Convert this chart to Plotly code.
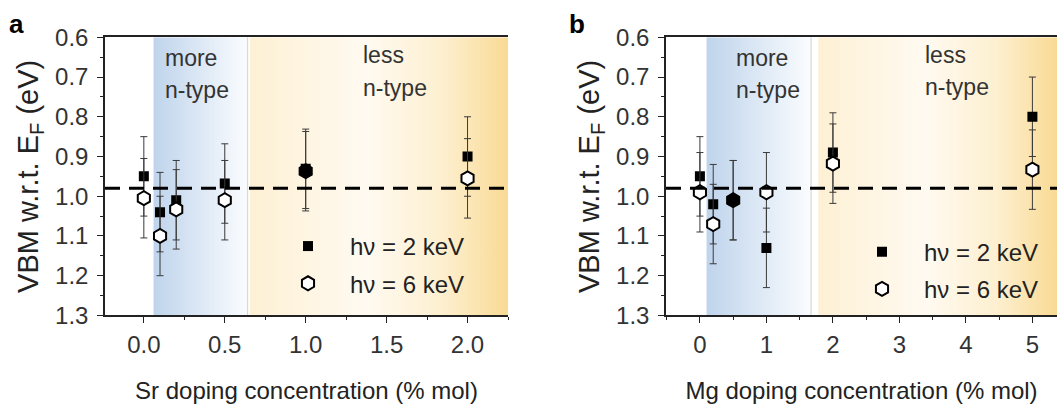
import plotly.graph_objects as go

# ---------------- data ----------------
sr_conc = [0.0, 0.1, 0.2, 0.5, 1.0, 2.0]
sr_vbm_2kev = [0.95, 1.04, 1.01, 0.968, 0.931, 0.90]
sr_vbm_6kev = [1.005, 1.10, 1.033, 1.01, 0.937, 0.955]
sr_err_2kev = [0.1, 0.1, 0.1, 0.1, 0.1, 0.1]
sr_err_6kev = [0.1, 0.1, 0.1, 0.1, 0.1, 0.1]

mg_conc = [0, 0.2, 0.5, 1, 2, 5]
mg_vbm_2kev = [0.95, 1.02, 1.01, 1.13, 0.89, 0.80]
mg_vbm_6kev = [0.99, 1.07, 1.01, 0.99, 0.918, 0.933]
mg_err_2kev = [0.1, 0.1, 0.1, 0.1, 0.1, 0.1]
mg_err_6kev = [0.1, 0.1, 0.1, 0.1, 0.1, 0.1]

ref_level = 0.98

# region bounds (x data units)
sr_more_region = [0.06, 0.635]
sr_divider = 0.64
sr_less_region = [0.655, 2.25]
mg_more_region = [0.1, 1.66]
mg_divider = 1.67
mg_less_region = [1.78, 5.37]

y_range = [1.3, 0.6]
sr_x_range = [-0.24, 2.25]
mg_x_range = [-0.51, 5.37]

sr_tickvals = [0.0, 0.5, 1.0, 1.5, 2.0]
mg_tickvals = [0, 1, 2, 3, 4, 5]

legend_labels = ["h\u03bd = 2 keV", "h\u03bd = 6 keV"]
y_title = "VBM w.r.t. E<sub>F</sub> (eV)"
sr_title = "Sr doping concentration (% mol)"
mg_title = "Mg doping concentration (% mol)"

# ---------------- styles ----------------
FONT = "Liberation Sans, Arial, sans-serif"
AX = "#222222"
TXT = "#333333"
blue_scale = [[0, "#bfd4ec"], [1, "#fafcfe"]]
yellow_scale = [[0, "#fdf0d4"], [0.45, "#fffaf1"], [0.75, "#fdefcf"], [1, "#f9da94"]]

W, H = 1057, 404
dom_a = [105 / W, 508 / W]
dom_b = [666 / W, 1.0]
dom_y = [1 - 323 / H, 1 - 25 / H]

fig = go.Figure()


def region(x0x1, scale, xa, ya):
    x0, x1 = x0x1
    fig.add_trace(go.Scatter(
        x=[x0, x1, x1, x0, x0], y=[0.6, 0.6, 1.3, 1.3, 0.6],
        fill="toself", mode="lines", line=dict(width=0),
        fillgradient=dict(type="horizontal", colorscale=scale),
        hoverinfo="skip", showlegend=False, xaxis=xa, yaxis=ya))


region(sr_more_region, blue_scale, "x", "y")
region(sr_less_region, yellow_scale, "x", "y")
region(mg_more_region, blue_scale, "x2", "y2")
region(mg_less_region, yellow_scale, "x2", "y2")


def err(arr):
    return dict(type="data", array=arr, visible=True, color="#3a3a3a",
                thickness=1, width=3.5)


def series(x, y, e, xa, ya, legend, sym, showfill, name, group):
    if sym == "square":
        marker = dict(symbol="square", size=10, color="black",
                      line=dict(width=0))
    else:
        marker = dict(symbol="hexagon", size=14, color=showfill,
                      line=dict(width=2, color="black"))
    fig.add_trace(go.Scatter(
        x=x, y=y, mode="markers", marker=marker, error_y=err(e),
        name=name, legend=legend, legendgroup=group + legend,
        xaxis=xa, yaxis=ya, showlegend=True))


series(sr_conc, sr_vbm_2kev, sr_err_2kev, "x", "y", "legend", "square", None,
       legend_labels[0], "g1")
series(sr_conc, sr_vbm_6kev, sr_err_6kev, "x", "y", "legend", "hexagon",
       ["white", "white", "white", "white", "black", "white"],
       legend_labels[1], "g2")
series(mg_conc, mg_vbm_2kev, mg_err_2kev, "x2", "y2", "legend2", "square", None,
       legend_labels[0], "g1")
series(mg_conc, mg_vbm_6kev, mg_err_6kev, "x2", "y2", "legend2", "hexagon",
       ["white", "white", "black", "white", "white", "white"],
       legend_labels[1], "g2")

# ---------------- axes ----------------
tickfont = dict(family=FONT, size=24, color=TXT)


def yaxis_cfg(anchor):
    return dict(
        domain=dom_y, anchor=anchor, range=y_range, autorange=False,
        tickmode="linear", tick0=0.6, dtick=0.1, tickformat=".1f",
        ticks="outside", ticklen=6, tickwidth=1.2, tickcolor=AX,
        minor=dict(ticks="outside", ticklen=3, tickwidth=1, tickcolor=AX,
                   tick0=0.65, dtick=0.1),
        showline=True, linecolor=AX, linewidth=1.5, showgrid=False,
        zeroline=False, tickfont=tickfont, ticklabelstandoff=4,
        title=dict(text=y_title, font=dict(family=FONT, size=29, color=AX),
                   standoff=8))


def xaxis_cfg(anchor, dom, rng, tickvals, fmt, minor_d, title):
    return dict(
        domain=dom, anchor=anchor, range=rng, autorange=False,
        tickmode="array", tickvals=tickvals, tickformat=fmt,
        ticks="outside", ticklen=6, tickwidth=1.2, tickcolor=AX,
        minor=dict(ticks="outside", ticklen=3, tickwidth=1, tickcolor=AX,
                   tick0=0, dtick=minor_d),
        showline=True, linecolor=AX, linewidth=1.5, showgrid=False,
        zeroline=False, mirror=True, tickfont=tickfont, ticklabelstandoff=1,
        title=dict(text=title, font=dict(family=FONT, size=24, color=AX),
                   standoff=25))


def top_cfg(over, anchor, rng, tickvals, minor_d):
    return dict(overlaying=over, anchor=anchor, side="top", range=rng,
                autorange=False, tickmode="array", tickvals=tickvals,
                showticklabels=False, ticks="inside", ticklen=6, tickwidth=1.2,
                tickcolor=AX,
                minor=dict(ticks="inside", ticklen=3, tickwidth=1, tickcolor=AX,
                           tick0=0, dtick=minor_d),
                showline=False, showgrid=False, zeroline=False)


fig.update_layout(
    xaxis=xaxis_cfg("y", dom_a, sr_x_range, sr_tickvals, ".1f", 0.25, sr_title),
    yaxis=dict(yaxis_cfg("x"), mirror=False),
    xaxis2=xaxis_cfg("y2", dom_b, mg_x_range, mg_tickvals, "d", 0.5, mg_title),
    yaxis2=dict(yaxis_cfg("x2"), mirror=False),
    xaxis3=top_cfg("x", "y", sr_x_range, sr_tickvals, 0.25),
    xaxis4=top_cfg("x2", "y2", mg_x_range, mg_tickvals, 0.5),
    yaxis3=dict(overlaying="y", anchor="x", side="right", range=y_range,
                autorange=False, tickmode="linear", tick0=0.6, dtick=0.1,
                showticklabels=False, ticks="inside", ticklen=6, tickwidth=1.2,
                tickcolor=AX,
                minor=dict(ticks="inside", ticklen=3, tickwidth=1,
                           tickcolor=AX, tick0=0.65, dtick=0.1),
                showline=True, linecolor=AX, linewidth=1.5, showgrid=False,
                zeroline=False),
)

# ---------------- shapes ----------------
for xa, ya, div in [("x", "y", sr_divider), ("x2", "y2", mg_divider)]:
    fig.add_shape(type="line", xref=xa, yref=ya, x0=div, x1=div, y0=0.6,
                  y1=1.3, line=dict(color="#d8d8d8", width=1.5), layer="below")
    fig.add_shape(type="line", xref=xa + " domain", yref=ya, x0=0, x1=1,
                  y0=ref_level, y1=ref_level,
                  line=dict(color="black", width=3, dash="15px,9px"),
                  layer="above")

# ---------------- annotations ----------------
ann_font = dict(family=FONT, size=23, color=TXT)
texts = [
    ("x", "y", 0.117, 0.651, "more"), ("x", "y", 0.117, 0.733, "n-type"),
    ("x", "y", 1.34, 0.645, "less"), ("x", "y", 1.34, 0.728, "n-type"),
    ("x2", "y2", 0.51, 0.651, "more"), ("x2", "y2", 0.51, 0.733, "n-type"),
    ("x2", "y2", 3.36, 0.645, "less"), ("x2", "y2", 3.36, 0.726, "n-type"),
]
for xa, ya, x, y, t in texts:
    fig.add_annotation(xref=xa, yref=ya, x=x, y=y, text=t, showarrow=False,
                       xanchor="left", yanchor="middle", font=ann_font)

for x, t in [(16, "a"), (577, "b")]:
    fig.add_annotation(xref="paper", yref="paper", x=x / W, y=1 - 11 / H,
                       text="<b>%s</b>" % t, showarrow=False,
                       xanchor="center", yanchor="middle",
                       font=dict(family=FONT, size=26, color="black"))

leg_common = dict(xanchor="left", yanchor="top", bgcolor="rgba(0,0,0,0)",
                  font=dict(family=FONT, size=24, color=AX),
                  traceorder="grouped", tracegroupgap=3, itemwidth=74,
                  borderwidth=0)

fig.update_layout(
    width=W, height=H, margin=dict(l=0, r=0, t=0, b=0),
    paper_bgcolor="white", plot_bgcolor="white",
    font=dict(family=FONT, color=AX),
    legend=dict(leg_common, x=266 / W, y=1 - 225 / H),
    legend2=dict(leg_common, x=840 / W, y=1 - 231 / H),
)

fig.write_html("out.html")
